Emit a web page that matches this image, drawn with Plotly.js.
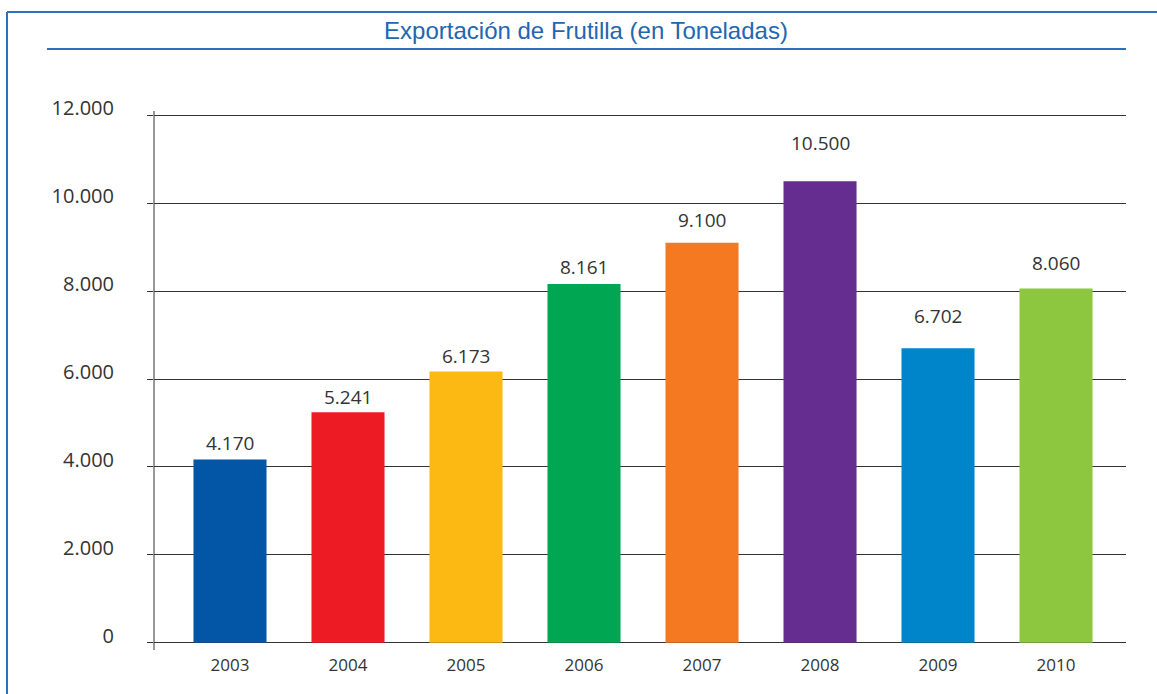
<!DOCTYPE html>
<html>
<head>
<meta charset="utf-8">
<script src="https://cdn.plot.ly/plotly-3.0.1.min.js"></script>
<style>html,body{margin:0;padding:0;background:#fff;}#chart{width:1157px;height:694px;}</style>
</head>
<body>
<div id="chart"></div>
<script>
const years = ['2003','2004','2005','2006','2007','2008','2009','2010'];
const tons = [4170, 5241, 6173, 8161, 9100, 10500, 6702, 8060];
const barColors = ['#0355A6','#ED1C24','#FDB913','#00A651','#F47920','#662D91','#0085CA','#8DC63F'];
const labelLift = [16, 15, 15, 17, 23, 38, 32, 25];
const yTicks = [0, 2000, 4000, 6000, 8000, 10000, 12000];

const fmt = v => v.toString().replace(/\B(?=(\d{3})+(?!\d))/g, '.');

const trace = {
  type: 'bar',
  x: years,
  y: tons,
  marker: {color: barColors, line: {width: 0}},
  width: 0.619,
  hoverinfo: 'skip'
};

const annotations = years.map((yr, i) => ({
  x: i, y: tons[i], xref: 'x', yref: 'y',
  text: fmt(tons[i]), showarrow: false,
  xanchor: 'center', yanchor: 'middle', yshift: labelLift[i],
  font: {family: 'Open Sans, sans-serif', size: 19, color: '#333333'}
}));

const frameColor = '#2F70BE';
const PL = 154, PT = 114, PW = 972, PH = 530;
const px = v => (v - PL) / PW;
const py = v => (PT + PH - v) / PH;
const layout = {
  width: 1157, height: 694,
  margin: {l: PL, r: 1157 - PL - PW, t: PT, b: 694 - PT - PH},
  paper_bgcolor: '#ffffff', plot_bgcolor: '#ffffff',
  separators: ',.',
  showlegend: false,
  title: {
    text: 'Exportación de Frutilla (en Toneladas)',
    font: {family: 'Liberation Sans, Arial, sans-serif', size: 24, color: '#2266B0'},
    xref: 'container', yref: 'container', x: 586/1157, y: 1 - 31/694,
    xanchor: 'center', yanchor: 'middle'
  },
  xaxis: {
    type: 'category',
    range: [-0.644, 7.593],
    showgrid: false, zeroline: false, showline: false,
    ticks: '',
    ticklabelstandoff: 9,
    tickfont: {family: 'Open Sans, sans-serif', size: 17, color: '#333333'},
    fixedrange: true
  },
  yaxis: {
    range: [-30, 12030],
    tickvals: yTicks,
    ticktext: yTicks.map(fmt),
    showgrid: true, gridcolor: '#333333', gridwidth: 1,
    zeroline: false,
    showline: false,
    ticks: 'outside', ticklen: 6, tickcolor: '#333333', tickwidth: 1,
    ticklabelstandoff: 29,
    ticklabelshift: -7,
    tickfont: {family: 'Open Sans, sans-serif', size: 20, color: '#333333'},
    fixedrange: true
  },
  annotations: annotations,
  shapes: [
    {type: 'line', xref: 'paper', yref: 'paper', x0: 0, x1: 0, y0: py(650), y1: py(111),
     line: {color: '#333333', width: 1}, layer: 'above'},
    {type: 'line', xref: 'paper', yref: 'paper', x0: px(7), x1: px(1160), y0: py(12), y1: py(12),
     line: {color: frameColor, width: 2}},
    {type: 'line', xref: 'paper', yref: 'paper', x0: px(7), x1: px(7), y0: py(12), y1: py(700),
     line: {color: frameColor, width: 2}},
    {type: 'line', xref: 'paper', yref: 'paper', x0: px(47), x1: 1, y0: py(49), y1: py(49),
     line: {color: frameColor, width: 2}}
  ]
};

Plotly.newPlot('chart', [trace], layout, {displayModeBar: false, staticPlot: true});
</script>
</body>
</html>
